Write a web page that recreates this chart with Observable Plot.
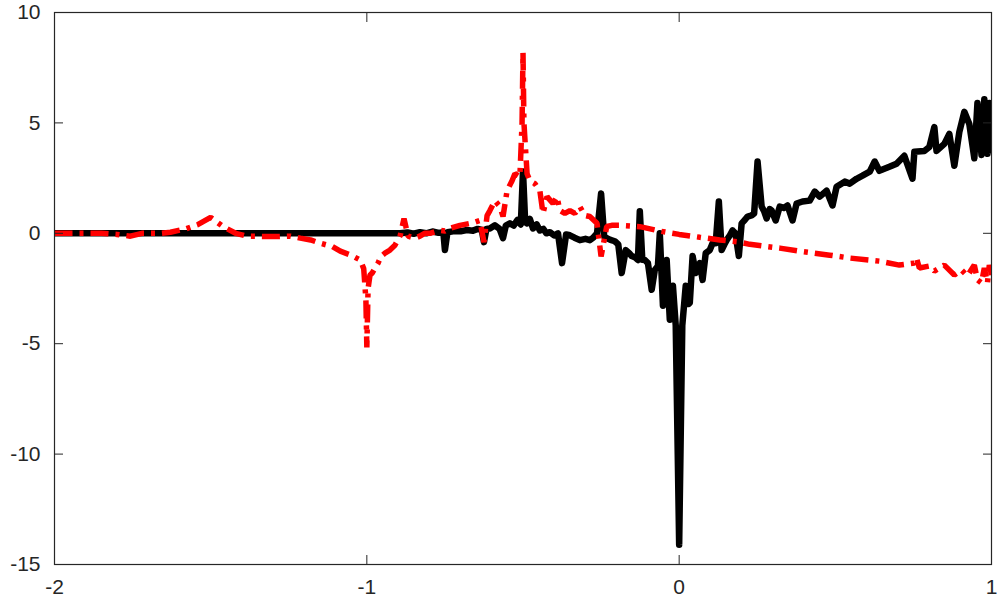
<!DOCTYPE html>
<html>
<head>
<meta charset="utf-8">
<script src="https://cdn.jsdelivr.net/npm/d3@7"></script>
<script src="https://cdn.jsdelivr.net/npm/@observablehq/plot@0.6"></script>
<style>
  html, body { margin: 0; padding: 0; background: #fff; }
  #chart { width: 997px; height: 598px; }
</style>
</head>
<body>
<div id="chart"></div>
<script>
// Black solid series
const blackX = [-2, -0.893, -0.87, -0.85, -0.83, -0.81, -0.79, -0.77, -0.755, -0.75, -0.742, -0.72, -0.70, -0.68, -0.66, -0.645, -0.632, -0.625, -0.617, -0.606, -0.59, -0.575, -0.564, -0.555, -0.542, -0.53, -0.518, -0.507, -0.5, -0.493, -0.487, -0.478, -0.468, -0.456, -0.446, -0.435, -0.425, -0.414, -0.40, -0.388, -0.375, -0.362, -0.35, -0.335, -0.318, -0.30, -0.286, -0.275, -0.263, -0.25, -0.24, -0.232, -0.22, -0.206, -0.195, -0.184, -0.171, -0.16, -0.152, -0.14, -0.132, -0.126, -0.118, -0.11, -0.10, -0.088, -0.078, -0.068, -0.062, -0.052, -0.04, -0.03, -0.02, -0.011, 0, 0.01, 0.021, 0.03, 0.034, 0.043, 0.053, 0.066, 0.075, 0.085, 0.098, 0.107, 0.117, 0.127, 0.136, 0.145, 0.152, 0.162, 0.171, 0.18, 0.191, 0.2, 0.21, 0.219, 0.232, 0.24, 0.251, 0.264, 0.272, 0.28, 0.29, 0.296, 0.309, 0.322, 0.335, 0.347, 0.363, 0.376, 0.395, 0.418, 0.434, 0.45, 0.472, 0.491, 0.504, 0.53, 0.546, 0.568, 0.587, 0.61, 0.626, 0.641, 0.673, 0.696, 0.721, 0.747, 0.753, 0.785, 0.801, 0.817, 0.824, 0.849, 0.865, 0.881, 0.897, 0.913, 0.929, 0.945, 0.955, 0.968, 0.977, 0.987, 0.993, 1.0];
const blackY = [0, 0, 0.04, -0.02, 0.05, 0.0, 0.08, 0.02, 0.05, -0.76, 0.05, 0.1, 0.09, 0.15, 0.12, 0.2, 0.15, -0.4, 0.2, 0.22, 0.36, 0.2, -0.22, 0.35, 0.45, 0.35, 0.6, 0.4, 2.8, 0.5, 0.45, 0.65, 0.22, 0.4, 0.13, 0.2, 0.0, 0.05, -0.1, 0.0, -1.35, -0.05, -0.09, -0.2, -0.31, -0.25, -0.31, -0.2, 0.0, 1.8, -0.15, -0.22, -0.3, -0.36, -0.5, -1.8, -0.76, -0.9, -1.03, -1.1, -1.21, 1.0, -1.2, -1.21, -1.35, -2.56, -1.66, -1.48, 0.0, -3.28, -1.21, -3.91, -2.38, -4.18, -14.1, -4.18, -2.38, -3.2, -3.15, -1.03, -1.8, -1.35, -2.11, -0.9, -0.76, -0.45, -0.45, 1.44, -0.76, -0.5, -0.31, -0.1, 0.13, 0.0, -1.03, 0.45, 0.6, 0.76, 0.81, 0.9, 3.25, 1.21, 1.0, 0.67, 1.1, 1.03, 0.58, 1.21, 1.15, 1.26, 0.58, 1.35, 1.44, 1.48, 1.89, 1.66, 1.93, 1.26, 2.11, 2.34, 2.25, 2.47, 2.61, 2.79, 3.25, 2.83, 3.01, 3.15, 3.51, 2.47, 3.69, 3.73, 3.91, 4.81, 3.73, 4.05, 4.5, 3.06, 4.59, 5.5, 4.95, 3.4, 5.9, 3.55, 6.07, 3.6, 5.9, 3.6];

// Red dash-dot series
const redX = [-2, -1.85, -1.8, -1.757, -1.72, -1.66, -1.629, -1.58, -1.54, -1.5, -1.46, -1.42, -1.383, -1.3, -1.245, -1.213, -1.18, -1.149, -1.11, -1.085, -1.05, -1.021, -1.01, -1.003, -1.0, -0.996, -0.99, -0.983, -0.975, -0.964, -0.955, -0.942, -0.926, -0.91, -0.893, -0.881, -0.868, -0.846, -0.83, -0.815, -0.798, -0.766, -0.75, -0.734, -0.702, -0.67, -0.655, -0.638, -0.625, -0.615, -0.606, -0.59, -0.574, -0.564, -0.551, -0.535, -0.526, -0.51, -0.503, -0.5, -0.497, -0.487, -0.478, -0.462, -0.446, -0.436, -0.423, -0.404, -0.391, -0.382, -0.366, -0.35, -0.334, -0.318, -0.302, -0.286, -0.263, -0.25, -0.232, -0.216, -0.19, -0.126, -0.062, 0.0, 0.066, 0.13, 0.194, 0.226, 0.322, 0.386, 0.482, 0.546, 0.641, 0.705, 0.753, 0.76, 0.769, 0.801, 0.817, 0.849, 0.881, 0.904, 0.923, 0.945, 0.955, 0.968, 0.977, 0.987, 0.993, 1.0];
const redY = [0, 0, -0.05, -0.13, 0.0, 0.0, 0.05, 0.2, 0.4, 0.72, 0.3, 0.0, -0.13, -0.15, -0.13, -0.22, -0.3, -0.45, -0.6, -0.81, -1.0, -1.21, -1.6, -3.0, -5.17, -2.5, -1.9, -1.8, -1.6, -1.35, -1.05, -0.9, -0.76, -0.54, -0.1, 0.67, -0.13, -0.22, -0.13, 0.0, 0.0, 0.13, 0.1, 0.22, 0.36, 0.45, 0.5, 0.58, -0.4, 0.8, 1.03, 1.48, 1.21, 0.76, 1.93, 2.38, 2.7, 2.56, 5.0, 8.18, 5.0, 2.7, 2.38, 2.25, 1.93, 0.9, 1.66, 1.35, 1.66, 1.03, 0.9, 1.03, 0.9, 1.21, 0.81, 0.76, 0.45, -1.05, 0.31, 0.36, 0.36, 0.3, 0.1, -0.05, -0.18, -0.3, -0.4, -0.5, -0.67, -0.81, -0.99, -1.12, -1.26, -1.44, -1.35, -1.12, -1.57, -1.48, -1.71, -1.44, -1.89, -1.66, -1.93, -1.44, -2.11, -2.25, -1.57, -2.25, -1.44, -1.89];

const xTicks = [-2, -1, 0, 1];
const yTicks = [-15, -10, -5, 0, 5, 10];

const black = blackX.map((x, i) => ({x, y: blackY[i]}));
const red = redX.map((x, i) => ({x, y: redY[i]}));

const axisColor = "#262626";
const fmt = d => String(d); // plain hyphen-minus, no decimals

const chart = Plot.plot({
  width: 997,
  height: 598,
  marginLeft: 54,
  marginRight: 6,
  marginTop: 12,
  marginBottom: 34,
  style: {fontFamily: "'Liberation Sans', Arial, sans-serif", fontSize: "21px", color: axisColor, background: "#fff"},
  x: {domain: [-2, 1]},
  y: {domain: [-15, 10]},
  marks: [
    Plot.line(black, {x: "x", y: "y", stroke: "#000", strokeWidth: 6.5, strokeLinejoin: "round", strokeLinecap: "butt", clip: true}),
    Plot.line(red, {x: "x", y: "y", stroke: "#ff0000", strokeWidth: 5.5, strokeDasharray: "18,7,4,7", strokeLinejoin: "miter", strokeLinecap: "butt", clip: true}),
    Plot.frame({stroke: axisColor, strokeWidth: 1.2}),
    Plot.axisY(yTicks, {anchor: "left", tickSize: 0, tickPadding: 14, tickFormat: fmt, label: null, fontSize: 21, fill: axisColor}),
    Plot.axisY(yTicks, {anchor: "left", tickSize: -9, text: null, label: null, stroke: axisColor}),
    Plot.axisY(yTicks, {anchor: "right", tickSize: -9, text: null, label: null, stroke: axisColor}),
    Plot.axisX(xTicks, {anchor: "bottom", tickSize: 0, tickPadding: 15, tickFormat: fmt, label: null, fontSize: 21, fill: axisColor}),
    Plot.axisX(xTicks, {anchor: "bottom", tickSize: -9, text: null, label: null, stroke: axisColor}),
    Plot.axisX(xTicks, {anchor: "top", tickSize: -9, text: null, label: null, stroke: axisColor})
  ]
});
document.getElementById("chart").appendChild(chart);
</script>
</body>
</html>
